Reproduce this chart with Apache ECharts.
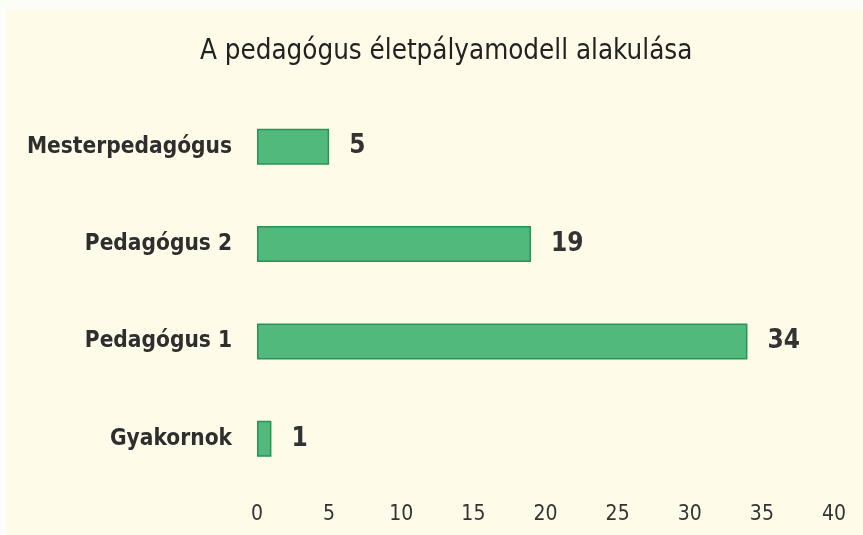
<!DOCTYPE html>
<html><head><meta charset="utf-8">
<script src="https://cdn.jsdelivr.net/npm/echarts@6/dist/echarts.min.js"></script>
<style>
html,body{margin:0;padding:0;background:#fdfdf8;}
#c{position:absolute;left:6px;top:10px;width:857px;height:525px;background:#fefce9;}
</style></head><body>
<div id="c"></div>
<script>
var categories = ["Gyakornok", "Pedagógus 1", "Pedagógus 2", "Mesterpedagógus"];
var values = [1, 34, 19, 5];
var titleText = "A pedagógus életpályamodell alakulása";

var chart = echarts.init(document.getElementById('c'));
var font = '"DejaVu Sans Condensed", "DejaVu Sans", sans-serif';
chart.setOption({
  backgroundColor: '#fefce9',
  animation: false,
  title: {
    text: titleText, left: 189, top: 23,
    textStyle: {fontFamily: font, fontSize: 27.5, fontWeight: 'normal', color: '#222'}
  },
  grid: {left: 251, right: 29, top: 88, bottom: 47.5, containLabel: false},
  xAxis: {
    type: 'value', min: 0, max: 40, interval: 5,
    axisLine: {show: false}, axisTick: {show: false}, splitLine: {show: false},
    axisLabel: {margin: 17, fontFamily: font, fontSize: 21, color: '#333'}
  },
  yAxis: {
    type: 'category', data: categories,
    axisLine: {show: false}, axisTick: {show: false},
    axisLabel: {margin: 25, fontFamily: font, fontSize: 22.5, fontWeight: 'bold', color: '#2e2e2e'}
  },
  series: [{
    type: 'bar', data: values, barWidth: 36,
    itemStyle: {color: '#52b97c', borderColor: '#2a9257', borderWidth: 1.5},
    label: {show: true, position: 'right', distance: 20, fontFamily: font, fontSize: 26, fontWeight: 'bold', color: '#333'}
  }]
});
</script></body></html>
